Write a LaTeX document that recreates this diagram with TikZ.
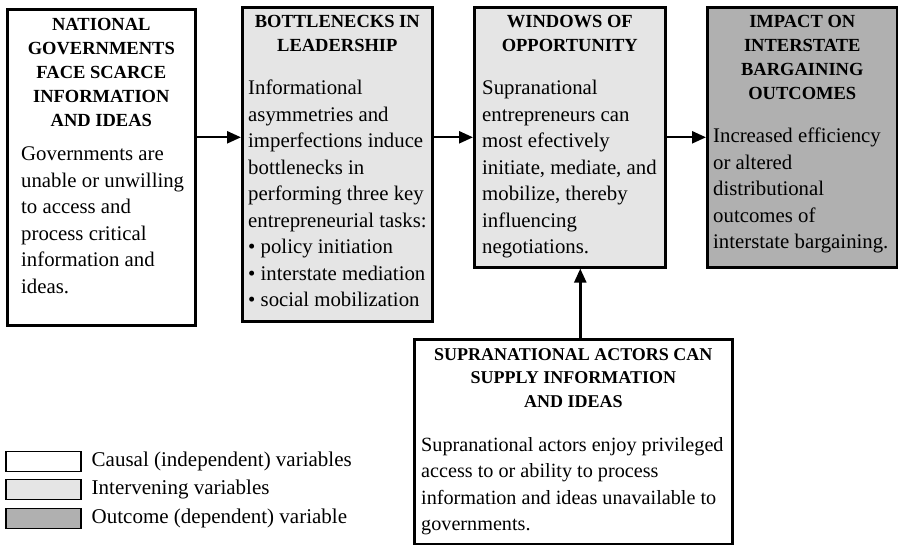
\documentclass[tikz,border=0pt]{standalone}
\usepackage{fontspec}
\setmainfont{Liberation Serif}
\usetikzlibrary{calc,positioning,arrows.meta}
\definecolor{interfill}{gray}{0.9}
\definecolor{outfill}{gray}{0.69}
\tikzset{
  line/.style    = {-{Triangle[length=14pt,width=12pt]}, line width=2.4pt},
  box/.style     = {draw, line width=2.6pt, inner sep=0pt, anchor=north west},
  causal/.style  = {box, fill=white},
  inter/.style   = {box, fill=interfill},
  outcome/.style = {box, fill=outfill},
  head/.style    = {inner sep=0pt, align=center, font=\fontsize{18.5}{24}\selectfont\bfseries},
  body/.style    = {inner sep=0pt, align=left, font=\fontsize{20.8}{26.5}\selectfont},
  swatch/.style  = {draw, line width=1.5pt, minimum width=75pt, minimum height=20pt, inner sep=0pt, anchor=north west},
  key/.style     = {inner sep=0pt, anchor=west, font=\fontsize{21}{23}\selectfont},
}

\begin{document}
\begin{tikzpicture}[x=1pt, y=1pt]
  \useasboundingbox (0,0) rectangle (898,-545);
  % boxes
  \node[causal,  minimum width=188pt, minimum height=316pt] (gov)  at (6,-8)   {};
  \node[inter,   minimum width=190pt, minimum height=314pt] (neck) at (241,-6) {};
  \node[inter,   minimum width=191pt, minimum height=260pt] (win)  at (473,-6) {};
  \node[outcome, minimum width=190pt, minimum height=260pt] (imp)  at (706,-6) {};
  \node[causal,  minimum width=318pt, minimum height=205pt] (sup)  at (413,-338) {};
  % headings
  \node[head, below=10pt of gov.north]  (govhead)  {NATIONAL\\GOVERNMENTS\\FACE SCARCE\\INFORMATION\\AND IDEAS};
  \node[head, below=9pt of neck.north]  (neckhead) {BOTTLENECKS IN\\LEADERSHIP};
  \node[head, below=9pt of win.north]   (winhead)  {WINDOWS OF\\OPPORTUNITY};
  \node[head, below=9pt of imp.north]   (imphead)  {IMPACT ON\\INTERSTATE\\BARGAINING\\OUTCOMES};
  \node[head, font=\fontsize{18}{23.5}\selectfont\bfseries, below=10pt of sup.north] (suphead)
    {SUPRANATIONAL ACTORS CAN\\SUPPLY INFORMATION\\AND IDEAS};
  % texts
  \node[body, below right=139pt and 15pt of gov.north west] (govtext)
    {Governments are\\unable or unwilling\\to access and\\process critical\\information and\\ideas.};
  \node[body, below right=74pt and 7pt of neck.north west] (necktext)
    {Informational\\asymmetries and\\imperfections induce\\bottlenecks in\\performing three key\\entrepreneurial tasks:\\\textbullet{} policy initiation\\\textbullet{} interstate mediation\\\textbullet{} social mobilization};
  \node[body, below right=74pt and 9pt of win.north west] (wintext)
    {Supranational\\entrepreneurs can\\most efectively\\initiate, mediate, and\\mobilize, thereby\\influencing\\negotiations.};
  \node[body, below right=122pt and 7pt of imp.north west] (imptext)
    {Increased efficiency\\or altered\\distributional\\outcomes of\\interstate bargaining.};
  \node[body, font=\fontsize{20.2}{26.5}\selectfont, below right=99pt and 8pt of sup.north west] (suptext)
    {Supranational actors enjoy privileged\\access to or ability to process\\information and ideas unavailable to\\governments.};
  % arrows
  \draw[line] (gov.east |- win.west) -- (neck.west |- win.west);
  \draw[line] (neck.east |- win.west) -- (win.west);
  \draw[line] (win.east) -- (imp.west);
  \draw[line] ([xshift=7pt]sup.north) -- ([xshift=7pt]sup.north |- win.south);
  % legend
  \node[swatch, fill=white]     (swcausal) at (5,-451) {};
  \node[swatch, fill=interfill] (swinter)  at (5,-479) {};
  \node[swatch, fill=outfill]   (swout)    at (5,-508) {};
  \node[key, right=10pt of swcausal] {Causal (independent) variables};
  \node[key, right=10pt of swinter]  {Intervening variables};
  \node[key, right=10pt of swout]    {Outcome (dependent) variable};
\end{tikzpicture}
\end{document}
